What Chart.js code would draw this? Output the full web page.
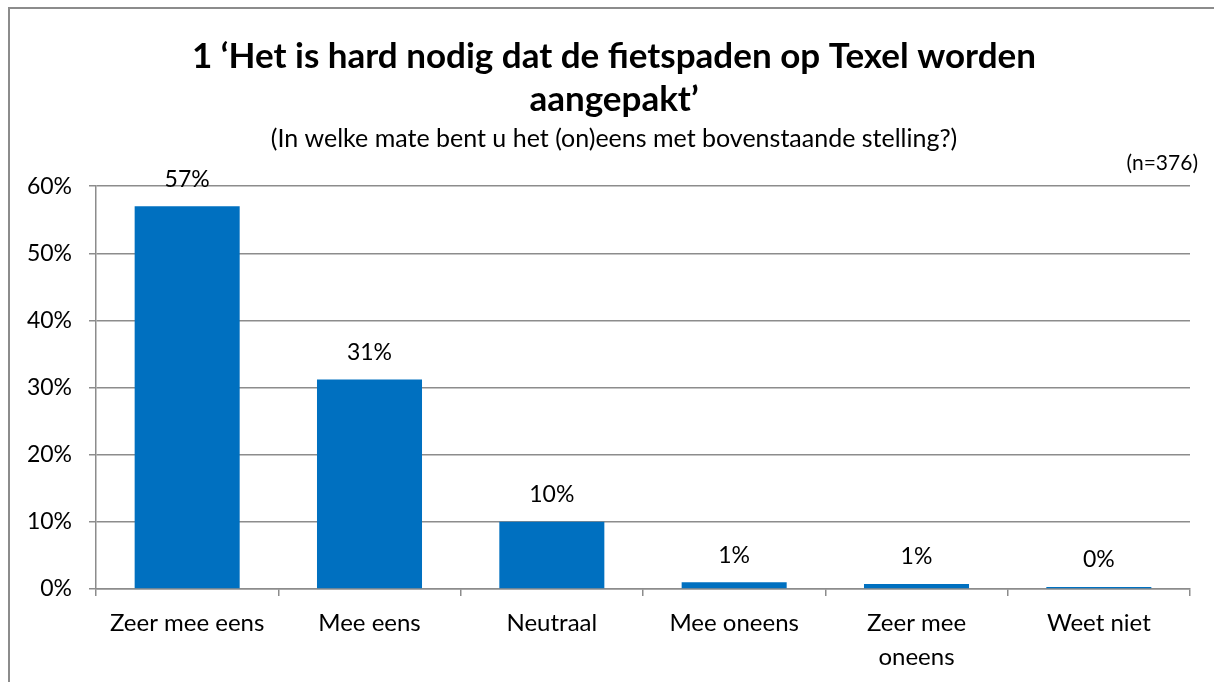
<!DOCTYPE html>
<html>
<head>
<meta charset="utf-8">
<script src="https://cdn.jsdelivr.net/npm/chart.js@4"></script>
<style>
  html, body { margin: 0; padding: 0; background: #fff; }
  #wrap { position: relative; width: 1214px; height: 682px; overflow: hidden; }
  #frame { position: absolute; left: 8px; top: 7px; width: 1300px; height: 800px;
           border-left: 2px solid #8c8c8c; border-top: 2px solid #8c8c8c; }
  canvas { position: absolute; left: 0; top: 0; }
</style>
</head>
<body>
<div id="wrap">
  <div id="frame"></div>
  <canvas id="barChart" width="1214" height="682"></canvas>
</div>
<script>
(() => {
  'use strict'

  // Data
  const categories = ['Zeer mee eens', 'Mee eens', 'Neutraal', 'Mee oneens', ['Zeer mee', 'oneens'], 'Weet niet'];
  const percentages = [57, 31.2, 10, 1.0, 0.75, 0.3];
  const yTicks = [0, 10, 20, 30, 40, 50, 60];
  const titleLines = ['1 \u2018Het is hard nodig dat de fietspaden op Texel worden', 'aangepakt\u2019'];
  const subtitleText = '(In welke mate bent u het (on)eens met bovenstaande stelling?)';
  const sampleText = '(n=376)';

  const FONT = 'Lato, Calibri, "Open Sans", sans-serif';
  const GRID = '#8c8c8c';

  // value labels above the bars + the (n=...) note
  const labelPlugin = {
    id: 'barLabels',
    afterDatasetsDraw(chart) {
      const { ctx } = chart;
      const meta = chart.getDatasetMeta(0);
      ctx.save();
      ctx.font = '23px ' + FONT;
      ctx.fillStyle = '#000';
      ctx.textAlign = 'center';
      ctx.textBaseline = 'middle';
      meta.data.forEach((bar, i) => {
        ctx.fillText(Math.round(percentages[i]) + '%', bar.x, bar.y - 27);
      });
      ctx.font = '21px ' + FONT;
      ctx.textAlign = 'right';
      ctx.fillText(sampleText, 1198, 163);
      ctx.restore();
    }
  };

  const ctx = document.getElementById('barChart').getContext('2d');

  const config = {
    type: 'bar',
    data: {
      labels: categories,
      datasets: [{
        data: percentages,
        backgroundColor: '#0070C0',
        borderWidth: 0,
        barPercentage: 0.576,
        categoryPercentage: 1
      }]
    },
    options: {
      responsive: false,
      animation: false,
      layout: { padding: { left: 14, right: 0, top: 0, bottom: 0 } },
      plugins: {
        legend: { display: false },
        tooltip: { enabled: false },
        title: {
          display: true,
          text: titleLines,
          color: '#000',
          font: { family: FONT, size: 35, weight: 'bold', lineHeight: 1.23 },
          padding: { top: 35.5, bottom: 2 }
        },
        subtitle: {
          display: true,
          text: subtitleText,
          color: '#000',
          font: { family: FONT, size: 25, lineHeight: 1.2 },
          padding: { top: 0, bottom: 32.6 }
        }
      },
      scales: {
        x: {
          afterFit: (scale) => { scale.height = 93; },
          grid: {
            offset: true,
            drawOnChartArea: false,
            drawTicks: true,
            tickLength: 7,
            color: GRID,
            lineWidth: 1.5
          },
          border: { display: true, color: GRID, width: 1.5 },
          ticks: {
            color: '#000',
            padding: 10,
            maxRotation: 0,
            autoSkip: false,
            font: { family: FONT, size: 24, lineHeight: 1.417 }
          }
        },
        y: {
          min: yTicks[0],
          max: yTicks[yTicks.length - 1],
          afterFit: (scale) => { scale.width = 82; },
          afterBuildTicks: (scale) => { scale.ticks = yTicks.map(v => ({ value: v })); },
          grid: { color: GRID, lineWidth: 1.5, tickLength: 7 },
          border: { display: true, color: GRID, width: 1.5 },
          ticks: {
            color: '#000',
            padding: 17,
            font: { family: FONT, size: 23 },
            callback: (v) => v + '%'
          }
        },
        // empty right-hand spacer so the plot ends at x=1190
        spacer: {
          type: 'linear',
          position: 'right',
          afterFit: (scale) => { scale.width = 24; },
          grid: { display: false, drawOnChartArea: false },
          border: { display: false },
          ticks: { display: false }
        }
      }
    },
    plugins: [labelPlugin]
  };

  new Chart(ctx, config);
})()
</script>
</body>
</html>
